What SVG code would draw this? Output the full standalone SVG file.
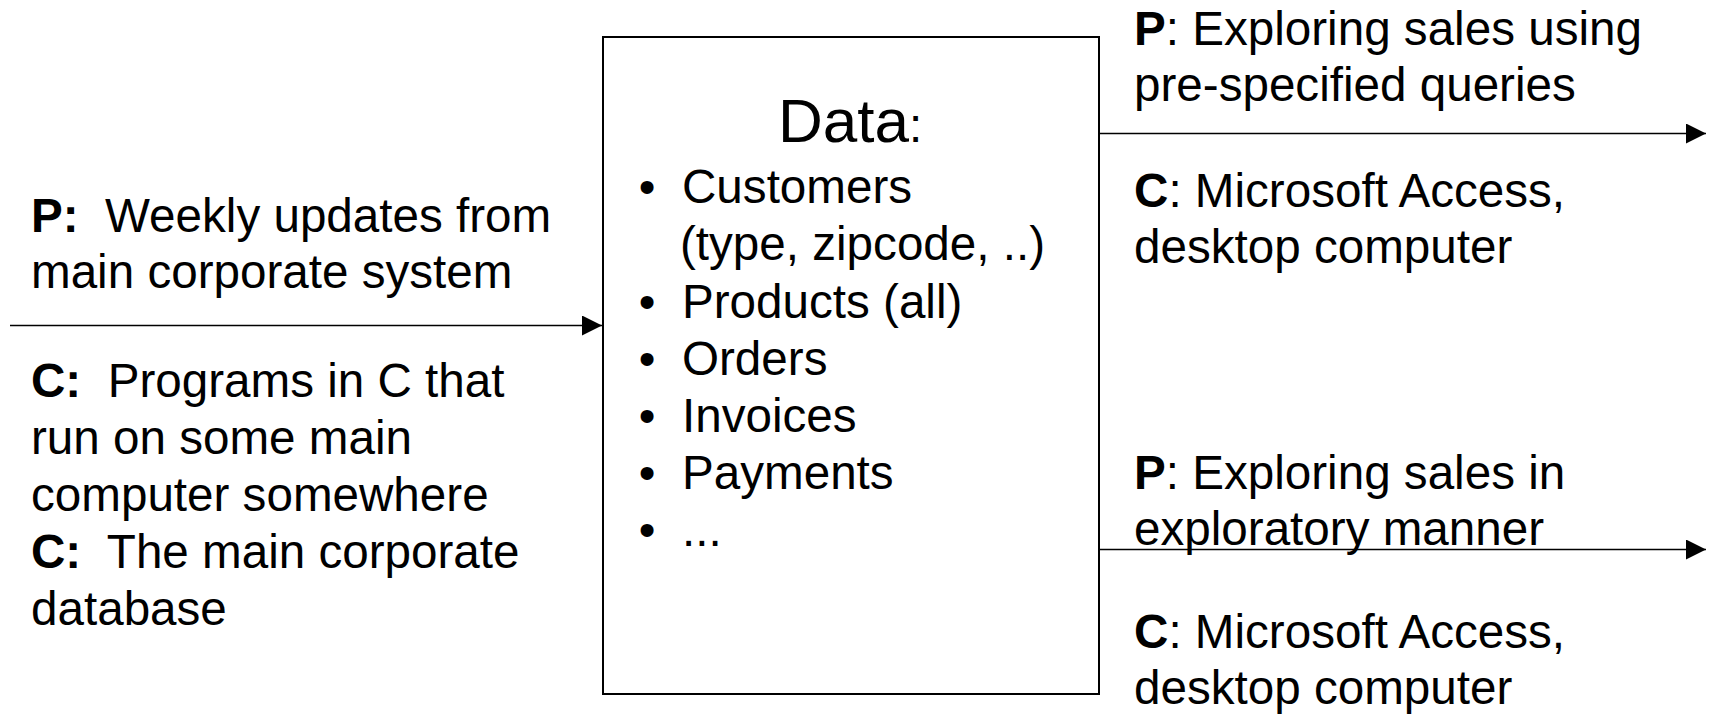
<svg xmlns="http://www.w3.org/2000/svg" width="1716" height="716" viewBox="0 0 1716 716">
  <style>
    .t { font-family: "Liberation Sans", Arial, sans-serif; font-size: 47.6px; fill: #000; }
    .b { font-weight: bold; }
    .title { font-family: "Liberation Sans", Arial, sans-serif; font-size: 62px; fill: #000; }
    .box { fill: #fff; stroke: #000; stroke-width: 2; }
    .conn { stroke: #000; stroke-width: 1.6; fill: none; }
  </style>
  <defs>
    <marker id="arrow" viewBox="0 0 20 20" refX="20" refY="10" markerWidth="20" markerHeight="20" markerUnits="userSpaceOnUse" orient="auto">
      <path d="M0,0 L20,10 L0,20 Z" fill="#000"/>
    </marker>
  </defs>
  <rect width="1716" height="716" fill="#fff"/>

  <g id="connectors">
    <line class="conn" x1="10" y1="325.5" x2="602" y2="325.5" marker-end="url(#arrow)"/>
    <line class="conn" x1="1099" y1="133.5" x2="1706" y2="133.5" marker-end="url(#arrow)"/>
    <line class="conn" x1="1099" y1="549.5" x2="1706" y2="549.5" marker-end="url(#arrow)"/>
  </g>

  <g id="data-node">
    <rect class="box" x="603" y="37" width="496" height="657"/>
    <text class="title" x="778" y="142">Data<tspan style="font-size:47.6px">:</tspan></text>
    <g>
      <text class="t" x="647" y="203" text-anchor="middle">•</text>
      <text class="t" x="682" y="203">Customers</text>
      <text class="t" x="680" y="260">(type, zipcode, ..)</text>
      <text class="t" x="647" y="318" text-anchor="middle">•</text>
      <text class="t" x="682" y="318">Products (all)</text>
      <text class="t" x="647" y="375" text-anchor="middle">•</text>
      <text class="t" x="682" y="375">Orders</text>
      <text class="t" x="647" y="432" text-anchor="middle">•</text>
      <text class="t" x="682" y="432">Invoices</text>
      <text class="t" x="647" y="489" text-anchor="middle">•</text>
      <text class="t" x="682" y="489">Payments</text>
      <text class="t" x="647" y="546" text-anchor="middle">•</text>
      <text class="t" x="682" y="546">...</text>
    </g>
  </g>

  <g id="input-label">
    <text class="t" x="31" y="232" xml:space="preserve"><tspan class="b">P:</tspan>  Weekly updates from</text>
    <text class="t" x="31" y="288">main corporate system</text>
    <text class="t" x="31" y="397" xml:space="preserve"><tspan class="b">C:</tspan>  Programs in C that</text>
    <text class="t" x="31" y="454">run on some main</text>
    <text class="t" x="31" y="511">computer somewhere</text>
    <text class="t" x="31" y="568" xml:space="preserve"><tspan class="b">C:</tspan>  The main corporate</text>
    <text class="t" x="31" y="625">database</text>
  </g>

  <g id="output-queries-label">
    <text class="t" x="1134" y="45"><tspan class="b">P</tspan>: Exploring sales using</text>
    <text class="t" x="1134" y="101">pre-specified queries</text>
    <text class="t" x="1134" y="207"><tspan class="b">C</tspan>: Microsoft Access,</text>
    <text class="t" x="1134" y="263">desktop computer</text>
  </g>

  <g id="output-exploratory-label">
    <text class="t" x="1134" y="489"><tspan class="b">P</tspan>: Exploring sales in</text>
    <text class="t" x="1134" y="545">exploratory manner</text>
    <text class="t" x="1134" y="648"><tspan class="b">C</tspan>: Microsoft Access,</text>
    <text class="t" x="1134" y="704">desktop computer</text>
  </g>
</svg>
